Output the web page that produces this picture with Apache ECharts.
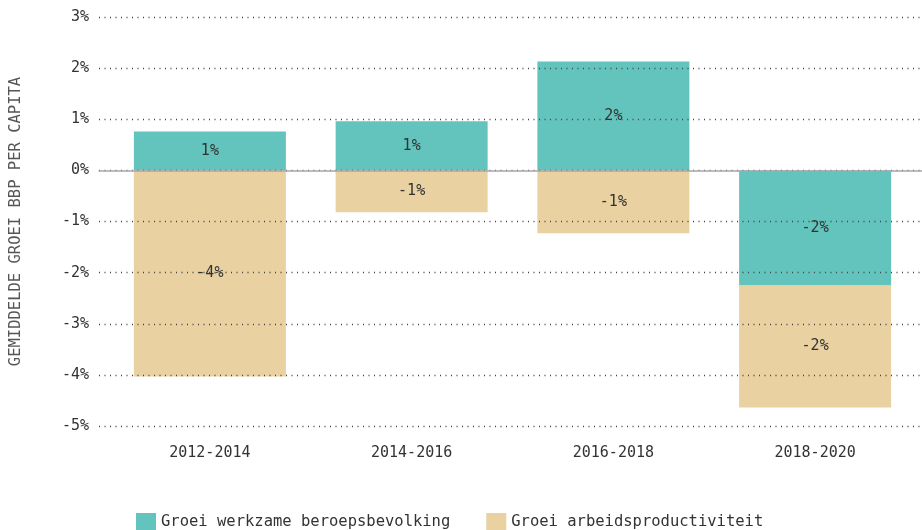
<!DOCTYPE html>
<html>
<head>
<meta charset="utf-8">
<script src="https://cdn.jsdelivr.net/npm/echarts@6/dist/echarts.min.js"></script>
<style>
  html, body { margin: 0; padding: 0; background: #fff; }
  #main { width: 922px; height: 530px; }
</style>
</head>
<body>
<div id="main"></div>
<script>
// periodes en bijdragen (procentpunt)
const periods = ['2012-2014', '2014-2016', '2016-2018', '2018-2020'];
const werkzaam = [0.76, 0.96, 2.13, -2.25];
const productiviteit = [-4.03, -0.82, -1.23, -2.39];
const seriesNames = ['Groei werkzame beroepsbevolking', 'Groei arbeidsproductiviteit'];

const font = '"DejaVu Sans Mono", "Liberation Mono", monospace';

const chart = echarts.init(document.getElementById('main'));

function pct(p) {
  return Math.round(p.value) + '%';
}

const option = {
  animation: false,
  textStyle: { fontFamily: font, color: '#333' },
  // grid 0: de staven, grid 1: rasterlijnen en nullijn over de volle breedte
  grid: [
    { left: 109, right: 6, top: 17, bottom: 104 },
    { left: 97, right: 0, top: 17, bottom: 104 }
  ],
  legend: {
    bottom: -5,
    left: 131,
    icon: 'rect',
    itemWidth: 20,
    itemHeight: 17,
    itemGap: 36,
    textStyle: { fontFamily: font, fontSize: 15.5, color: '#333' },
    data: seriesNames
  },
  xAxis: [
    {
      type: 'category',
      gridIndex: 0,
      data: periods,
      axisLine: { show: false, onZero: false },
      axisTick: { show: false },
      axisLabel: { margin: 20, fontSize: 15, color: '#333', fontFamily: font }
    },
    {
      type: 'value',
      gridIndex: 1,
      min: 0,
      max: 1,
      z: 6,
      axisLine: { show: true, onZero: true, lineStyle: { color: '#a8a8a8', width: 1.5 } },
      axisTick: { show: false },
      axisLabel: { show: false },
      splitLine: { show: false }
    }
  ],
  yAxis: [
    {
      type: 'value',
      gridIndex: 0,
      min: -5,
      max: 3,
      interval: 1,
      axisLine: { show: false },
      axisTick: { show: false },
      axisLabel: { show: false },
      splitLine: { show: false }
    },
    {
      type: 'value',
      gridIndex: 1,
      min: -5,
      max: 3,
      interval: 1,
      z: 5, // rasterlijnen boven de staven
      name: 'GEMIDDELDE GROEI BBP PER CAPITA',
      nameLocation: 'middle',
      nameGap: 75,
      nameTextStyle: { fontSize: 15.5, color: '#555', fontFamily: font },
      axisLine: { show: false },
      axisTick: { show: false },
      axisLabel: {
        margin: 10,
        fontSize: 15,
        color: '#333',
        fontFamily: font,
        formatter: v => v + '%'
      },
      splitLine: {
        show: true,
        lineStyle: { color: '#444', type: [1, 4.5], width: 1.3 }
      }
    }
  ],
  series: [
    {
      name: seriesNames[0],
      type: 'bar',
      stack: 'totaal',
      xAxisIndex: 0,
      yAxisIndex: 0,
      z: 1,
      barWidth: 152,
      data: werkzaam,
      itemStyle: { color: '#62C4BC' },
      label: { show: true, position: 'inside', formatter: pct, fontSize: 15, color: '#333', fontFamily: font }
    },
    {
      name: seriesNames[1],
      type: 'bar',
      stack: 'totaal',
      xAxisIndex: 0,
      yAxisIndex: 0,
      z: 1,
      barWidth: 152,
      data: productiviteit,
      itemStyle: { color: '#E9D1A1' },
      label: { show: true, position: 'inside', formatter: pct, fontSize: 15, color: '#333', fontFamily: font }
    }
  ]
};

chart.setOption(option);
</script>
</body>
</html>
